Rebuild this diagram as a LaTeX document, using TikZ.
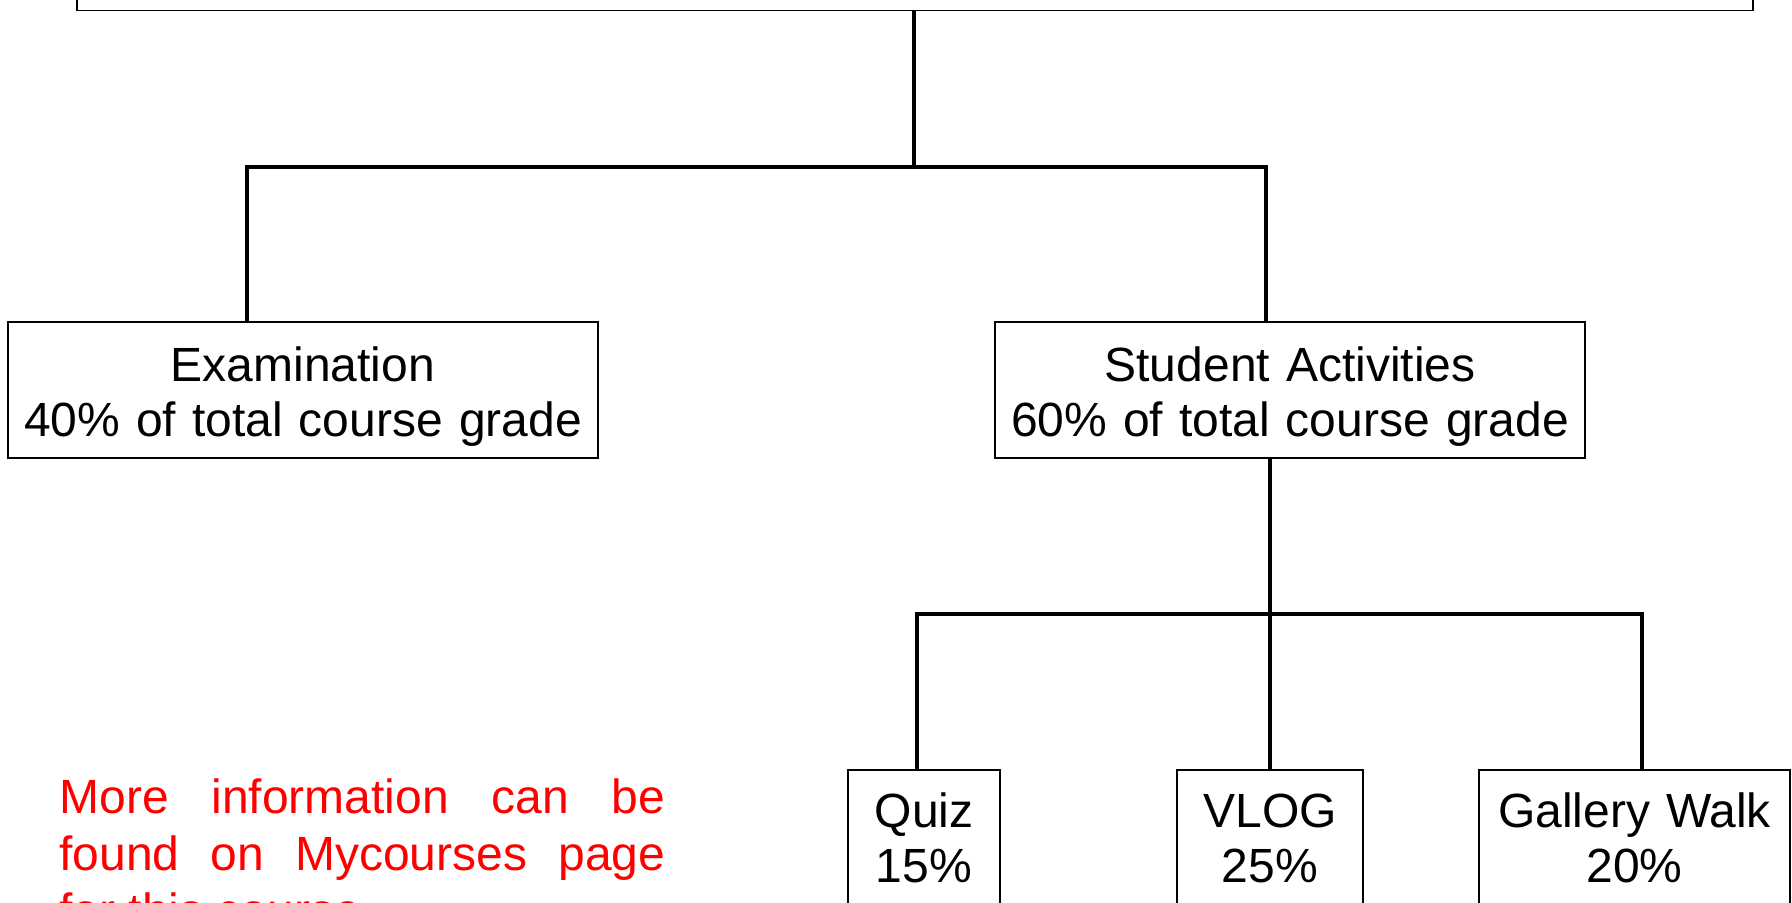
\documentclass[tikz,border=0pt]{standalone}
\usepackage{fontspec}
\setmainfont{Liberation Sans}
\usepackage{xcolor}
\definecolor{notered}{rgb}{1,0,0}

\begin{document}
\begin{tikzpicture}[x=0.5pt, y=-0.5pt,
  box/.style={draw=black, line width=0.75pt, inner sep=0pt, align=center, font=\fontsize{24}{27.5}\selectfont},
  link/.style={draw=black, line width=2pt}]
\useasboundingbox (0,0) rectangle (1792,902);
\clip (0,0) rectangle (1792,902);
\node[box, minimum width=838pt, minimum height=60pt, anchor=south] (course) at (915,11) {};
\node[box, text width=295pt, text height=29.5pt, text depth=38.5pt, anchor=base] (exam) at (303,381) {Examination\\40\% of total course grade};
\node[box, text width=295pt, text height=29.5pt, text depth=38.5pt, anchor=base] (act) at (1290,381) {Student Activities\\60\% of total course grade};
\node[box, text width=76pt, text height=28.5pt, text depth=100pt, anchor=base] (quiz) at (924,827) {Quiz\\15\%};
\node[box, text width=93pt, text height=28.5pt, text depth=100pt, anchor=base] (vlog) at (1270,827) {VLOG\\25\%};
\node[box, text width=155.5pt, text height=28.5pt, text depth=100pt, anchor=base] (walk) at (1634.5,827) {Gallery Walk\\20\%};
\node[anchor=base west, text width=303pt, inner sep=0pt, align=justify, text=notered, font=\fontsize{24}{28.5}\selectfont] (note) at (59,813) {\tolerance=10000\hyphenpenalty=10000 More information can be found on Mycourses page for this course.};
\coordinate (fork1) at (914,167);
\coordinate (examin) at (247,167);
\coordinate (actin) at (1266,167);
\coordinate (fork2) at (1270,614);
\coordinate (quizin) at (917,614);
\coordinate (walkin) at (1642,614);
\draw[link] (course.south -| fork1) -- (fork1);
\draw[link] (exam.north -| examin) -- (examin) -- (actin) -- (act.north -| actin);
\draw[link] (act.south -| fork2) -- (fork2);
\draw[link] (quiz.north -| quizin) -- (quizin) -- (walkin) -- (walk.north -| walkin);
\draw[link] (fork2) -- (vlog.north);
\end{tikzpicture}
\end{document}
